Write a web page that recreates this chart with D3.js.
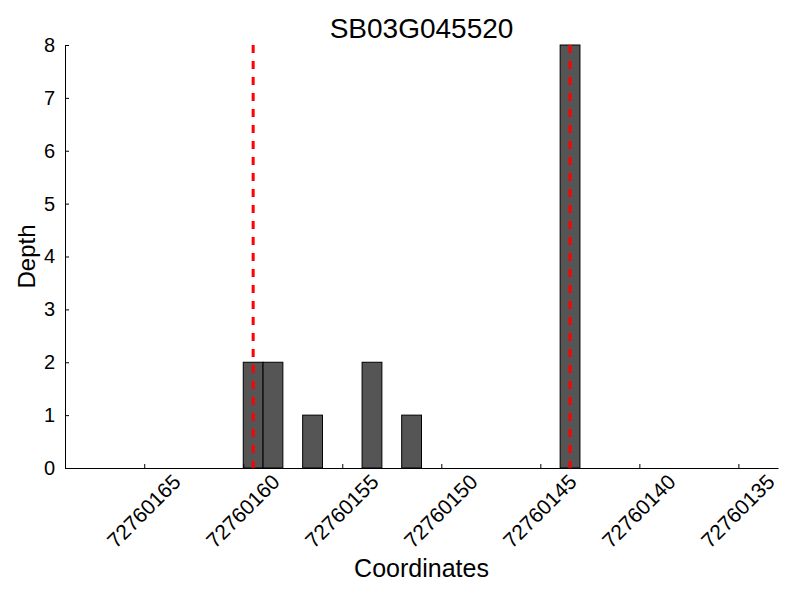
<!DOCTYPE html>
<html>
<head>
<meta charset="utf-8">
<script src="https://cdn.jsdelivr.net/npm/d3@7"></script>
<style>
  body { margin: 0; background: #fff; }
  text { font-family: "Liberation Sans", Arial, sans-serif; fill: #000; }
</style>
</head>
<body>
<svg id="chart" width="800" height="600"></svg>
<script>
// ---- data ----
const title = "SB03G045520";
const positions = [72760160, 72760159, 72760157, 72760154, 72760152, 72760144];
const depths = [2, 2, 1, 2, 1, 8];
const markers = [72760159.5, 72760143.5];
const xTicks = [72760165, 72760160, 72760155, 72760150, 72760145, 72760140, 72760135];
const yTicks = [0, 1, 2, 3, 4, 5, 6, 7, 8];
const xDomain = [72760169, 72760133];
const yDomain = [0, 8];

// ---- layout ----
const W = 800, H = 600;
const m = { left: 65, right: 22, top: 45, bottom: 132 };
const svg = d3.select("#chart");

const x = d3.scaleLinear().domain(xDomain).range([m.left, W - m.right]);
const y = d3.scaleLinear().domain(yDomain).range([H - m.bottom, m.top]);

// bars
svg.append("g").selectAll("rect")
  .data(positions.map((p, i) => ({ p, d: depths[i] })))
  .join("rect")
  .attr("x", d => x(d.p))
  .attr("width", d => x(d.p - 1) - x(d.p))
  .attr("y", d => y(d.d))
  .attr("height", d => y(0) - y(d.d))
  .attr("fill", "#555555")
  .attr("stroke", "#000")
  .attr("stroke-width", 1);

// red dashed markers
svg.append("g").selectAll("line")
  .data(markers)
  .join("line")
  .attr("x1", d => x(d)).attr("x2", d => x(d))
  .attr("y1", y(yDomain[1])).attr("y2", y(0))
  .attr("stroke", "red")
  .attr("stroke-width", 3)
  .attr("stroke-dasharray", "8,8");

// y axis
const yAxis = d3.axisLeft(y).tickValues(yTicks).tickFormat(d3.format("d"))
  .tickSizeInner(-4).tickSizeOuter(0).tickPadding(10);
const gy = svg.append("g").attr("transform", `translate(${m.left},0)`).call(yAxis);
gy.selectAll("text").attr("font-size", 20).attr("font-family", "Liberation Sans, Arial, sans-serif");
gy.selectAll("line, path").attr("stroke", "#000");

// x axis
const xAxis = d3.axisBottom(x).tickValues(xTicks).tickFormat(d3.format("d"))
  .tickSizeInner(-4).tickSizeOuter(0);
const gx = svg.append("g").attr("transform", `translate(0,${H - m.bottom})`).call(xAxis);
gx.selectAll("line, path").attr("stroke", "#000");
gx.selectAll("text")
  .attr("font-size", 21)
  .attr("font-family", "Liberation Sans, Arial, sans-serif")
  .attr("text-anchor", "middle")
  .attr("dy", "0.35em")
  .attr("y", 0)
  .attr("transform", "translate(-1,43) rotate(-45)");

// title
svg.append("text").attr("x", (m.left + W - m.right) / 2).attr("y", 38)
  .attr("text-anchor", "middle").attr("font-size", 28).text(title);

// axis labels
svg.append("text").attr("x", (m.left + W - m.right) / 2).attr("y", 577)
  .attr("text-anchor", "middle").attr("font-size", 25).text("Coordinates");
svg.append("text").attr("transform", `translate(35,${(m.top + H - m.bottom) / 2}) rotate(-90)`)
  .attr("text-anchor", "middle").attr("font-size", 24).text("Depth");
</script>
</body>
</html>
